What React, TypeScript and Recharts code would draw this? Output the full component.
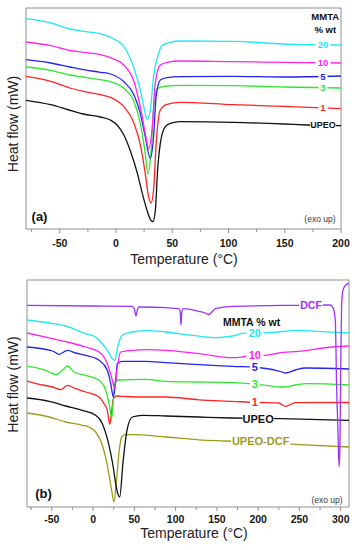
import { Line, LineChart, ReferenceArea, ReferenceDot, XAxis, YAxis } from 'recharts';

type Pt = [number, number];

// Panel (a): DSC traces, temperature (°C) vs heat flow (mW, stacked offsets)
const aUpeo: Pt[] = [
  [-80, 12.87], [-58, 12.43], [-43, 11.95], [-29, 11.5], [-14, 11.2], [-5, 10.9], [1, 10.4],
  [7, 9.4], [13, 7.73], [19, 5.57], [23, 3.73], [27.5, 1.9], [30.5, 0.97], [32.8, 0.73],
  [35, 1.9], [37, 5.9], [39.4, 8.57], [43.8, 10.23], [48.3, 10.57], [57, 10.73], [104, 10.67],
  [149, 10.5], [170, 10.4], [200, 10.33],
];
const aM1: Pt[] = [
  [-80, 15.27], [-58, 14.77], [-41, 14.1], [-29, 13.77], [-14, 13.43], [-5, 13.17], [7, 12.23],
  [16, 10.57], [22, 8.23], [26, 5.57], [29, 3.23], [31, 2.57], [33.4, 3.9], [35.7, 8.57],
  [39.4, 11.9], [45.3, 12.47], [57, 12.67], [104, 12.43], [149, 12.27], [200, 12.03],
];
const aM3: Pt[] = [
  [-80, 16.2], [-58, 15.87], [-41, 15.4], [-29, 15.2], [-14, 14.93], [-5, 14.73], [7, 14.07],
  [16, 12.73], [21.6, 10.57], [26, 7.57], [28.5, 5.5], [31, 7.57], [33.4, 11.9], [37, 14.07],
  [45.3, 14.3], [57, 14.37], [104, 14.33], [149, 14.2], [200, 14.1],
];
const aM5: Pt[] = [
  [-80, 16.93], [-58, 16.6], [-41, 16.2], [-29, 15.93], [-14, 15.67], [-5, 15.5], [7, 14.73],
  [16, 13.4], [21.6, 11.57], [26, 9.23], [30.5, 7.07], [33.4, 9.23], [35.7, 13.23], [39.4, 14.9],
  [45.3, 15.13], [57, 15.23], [104, 15.27], [149, 15.2], [200, 15.3],
];
const aM10: Pt[] = [
  [-80, 18.7], [-58, 18.33], [-41, 17.85], [-29, 17.67], [-14, 17.43], [-5, 17.13], [7, 16.4],
  [16, 14.73], [21.6, 12.23], [26, 9.57], [29, 8.07], [32, 9.9], [34.9, 14.57], [39.4, 16.4],
  [45.3, 16.67], [57, 16.8], [104, 16.73], [149, 16.67], [200, 16.6],
];
const aM20: Pt[] = [
  [-80, 21.03], [-58, 20.6], [-41, 20.0], [-29, 19.77], [-14, 19.53], [-5, 19.17], [7, 18.23],
  [15.6, 16.2], [21.6, 13.9], [26, 11.57], [27.5, 10.97], [30.5, 11.9], [33.4, 15.23],
  [37.9, 17.57], [40.6, 18.3], [45.3, 18.57], [57, 18.8], [104, 18.77], [149, 18.5], [200, 18.4],
];

// Panel (b)
const bDcf: Pt[] = [
  [-80, 20.17], [0, 20.1], [47, 20.07], [50, 19.8], [52, 19.1], [54, 19.8], [56, 20.0],
  [88, 19.93], [104, 19.83], [105.5, 19.5], [106.5, 18.2], [107.5, 19.5], [109, 19.83],
  [128, 19.57], [136, 19.4], [140, 19.23], [144, 19.5], [148, 19.83], [169, 20.07], [249, 20.17],
  [287, 20.2], [290, 20.0], [292, 19.6], [293.5, 18.5], [295, 12], [296.5, 8], [298, 4.0],
  [299, 6], [300, 14], [301, 20], [302.5, 21.6], [305, 22.1], [310, 22.4],
];
const bM20: Pt[] = [
  [-80, 18.7], [-53, 18.4], [-33, 18.1], [-9, 17.33], [3, 17.0], [7.3, 16.67], [11.3, 16.3],
  [17.3, 15.67], [23.4, 14.83], [26.6, 14.67], [29.8, 16.0], [35.5, 17.17], [47.6, 17.5],
  [64, 17.67], [88, 17.5], [120, 17.17], [148, 16.93], [169, 17.1], [187, 17.43], [209, 17.43],
  [249, 17.67], [270, 17.57], [310, 17.4],
];
const bM10: Pt[] = [
  [-80, 17.4], [-49, 16.83], [-31, 16.5], [-9, 16.0], [7.3, 15.5], [17.3, 14.33], [23.4, 12.67],
  [26.2, 11.83], [29.4, 14.0], [33.4, 15.5], [47.6, 15.67], [64, 15.73], [88, 15.67],
  [128, 15.33], [168.6, 14.93], [190, 15.1], [209, 15.17], [225, 15.4], [249, 15.57],
  [290, 16.0], [310, 16.1],
];
const bM5: Pt[] = [
  [-80, 16.0], [-49, 15.6], [-41, 15.27], [-31, 15.67], [-21, 15.4], [-9, 15.17], [7.3, 14.67],
  [17.3, 13.67], [21.4, 12.33], [24.6, 11.0], [27.4, 12.67], [29.4, 14.33], [35.5, 14.57],
  [64, 14.57], [88, 14.43], [128, 14.23], [168.6, 14.07], [205, 13.9], [229, 13.5], [233, 13.4],
  [245, 13.7], [257, 13.9], [310, 13.8],
];
const bM3: Pt[] = [
  [-80, 14.07], [-69, 13.93], [-53, 13.5], [-45, 13.23], [-37, 13.67], [-31, 14.1], [-23, 13.5],
  [-9, 13.17], [7.3, 12.67], [15.3, 11.67], [20.2, 10.0], [22.6, 8.83], [24.6, 10.8],
  [26.6, 12.5], [31.5, 12.7], [64, 12.77], [88, 12.57], [128, 12.5], [168.6, 12.43],
  [209, 12.17], [229, 12.0], [233, 12.0], [245, 12.2], [261, 12.33], [310, 12.2],
];
const bM1: Pt[] = [
  [-80, 12.6], [-69, 12.33], [-49, 12.0], [-39, 11.73], [-31, 12.17], [-21, 11.83], [-9, 11.5],
  [7.3, 11.0], [13.3, 10.33], [17.3, 9.67], [20.2, 8.27], [22.5, 9.5], [24.6, 10.83],
  [29, 11.1], [40, 11.05], [64, 11.0], [88, 11.0], [128, 10.72], [168.6, 10.57], [200, 10.45],
  [225, 10.4], [233, 10.07], [245, 10.43], [310, 10.45],
];
const bUpeo: Pt[] = [
  [-80, 10.9], [-53, 10.57], [-33, 10.1], [-13, 9.67], [3.2, 9.17], [11.3, 8.33], [17.3, 6.83],
  [23.4, 4.5], [29.4, 1.5], [32.3, 1.0], [36.3, 4.5], [41.5, 7.83], [47.6, 9.0], [59.7, 9.17],
  [88, 9.1], [128, 9.0], [168.6, 8.9], [229, 8.83], [310, 8.67],
];
const bUpeoDcf: Pt[] = [
  [-80, 9.4], [-53, 9.0], [-33, 8.5], [-13, 8.17], [-5, 8.0], [3.2, 7.5], [11.3, 6.17],
  [17.3, 4.17], [22.2, 1.83], [25.4, 0.5], [28.2, 2.5], [31.5, 5.5], [34.7, 7.0], [38.7, 7.23],
  [47.6, 7.23], [88, 7.0], [128, 6.72], [160, 6.6], [241, 6.28], [310, 6.0],
];

const ticksA = [-75, -50, -25, 0, 25, 50, 75, 100, 125, 150, 175, 200];
const ticksB = [-75, -50, -25, 0, 25, 50, 75, 100, 125, 150, 175, 200, 225, 250, 275, 300];

const FONT = '"Liberation Sans", Arial, Helvetica, sans-serif';
const AXIS = '#8f8f8f';
const C = {
  black: '#111111',
  red: '#ff2424',
  green: '#2ee82e',
  blue: '#2424f0',
  magenta: '#ff24f0',
  cyan: '#22e8f4',
  purple: '#9c32ff',
  olive: '#9c9c1c',
};

const toRows = (pts: Pt[]) => pts.map(([t, v]) => ({ t, v }));

const makeTick = (dy: number) => (p: any) => {
  const { x, y, payload } = p;
  const major = payload.value % 50 === 0;
  return (
    <g>
      <line x1={x} x2={x} y1={y} y2={y + (major ? 4 : 3)} stroke={AXIS} />
      {major && (
        <text x={x} y={y + dy} textAnchor="middle" fontFamily={FONT} fontWeight="bold" fontSize={10.5} fill="#151515">
          {payload.value}
        </text>
      )}
    </g>
  );
};

// text tag sitting on a curve, with a white box that breaks the line
const tag = (text: string, color: string, size: number, bg = true, weight = 'bold') => (p: any) => {
  const w = text.length * size * 0.64 + 3;
  return (
    <g>
      {bg && <rect x={p.cx - w / 2} y={p.cy - size * 0.55} width={w} height={size * 1.1} fill="#fff" />}
      <text x={p.cx} y={p.cy} dy="0.36em" textAnchor="middle" fontFamily={FONT} fontWeight={weight} fontSize={size} fill={color}>
        {text}
      </text>
    </g>
  );
};

type Series = { data: Pt[]; color: string };
type Tag = { t: number; v: number; text: string; color: string; size: number; bg?: boolean; weight?: string };

interface PanelProps {
  series: Series[];
  tags: Tag[];
  domain: [number, number];
  yMax: number;
  ticks: number[];
  top: number;
  right: number;
  yW: number;
  xH: number;
  tickDy: number;
  xTitle: [number, number];
  yTitleY: number;
}

const Panel = ({ series, tags, domain, yMax, ticks, top, right, yW, xH, tickDy, xTitle, yTitleY }: PanelProps) => (
  <LineChart width={355} height={275} margin={{ top, right, bottom: 0, left: 0 }}>
    <XAxis
      dataKey="t"
      type="number"
      domain={domain}
      allowDataOverflow
      ticks={ticks}
      interval={0}
      height={xH}
      axisLine={false}
      tickLine={false}
      tickSize={0}
      tickMargin={0}
      tick={makeTick(tickDy)}
      label={{
        content: () => (
          <text x={xTitle[0]} y={xTitle[1]} textAnchor="middle" fontFamily={FONT} fontSize={14} fill="#222">
            Temperature (°C)
          </text>
        ),
      }}
    />
    <YAxis
      type="number"
      domain={[0, yMax]}
      allowDataOverflow
      width={yW}
      axisLine={false}
      tick={false}
      tickLine={false}
      label={{
        content: () => (
          <text
            x={13}
            y={yTitleY}
            transform={`rotate(-90 13 ${yTitleY})`}
            textAnchor="middle"
            dominantBaseline="central"
            fontFamily={FONT}
            fontSize={14}
            fill="#222"
          >
            Heat flow (mW)
          </text>
        ),
      }}
    />
    <ReferenceArea x1={domain[0]} x2={domain[1]} y1={0} y2={yMax} fill="none" stroke={AXIS} strokeWidth={1} />
    {series.map((s, i) => (
      <Line
        key={i}
        data={toRows(s.data)}
        dataKey="v"
        type="monotone"
        stroke={s.color}
        strokeWidth={1.3}
        dot={false}
        isAnimationActive={false}
      />
    ))}
    {tags.map((g, i) => (
      <ReferenceDot
        key={'tag' + i}
        x={g.t}
        y={g.v}
        r={0}
        ifOverflow="visible"
        shape={tag(g.text, g.color, g.size, g.bg !== false, g.weight)}
      />
    ))}
  </LineChart>
);

const seriesA: Series[] = [
  { data: aUpeo, color: C.black },
  { data: aM1, color: C.red },
  { data: aM3, color: C.green },
  { data: aM5, color: C.blue },
  { data: aM10, color: C.magenta },
  { data: aM20, color: C.cyan },
];

const tagsA: Tag[] = [
  { t: 186, v: 21.2, text: 'MMTA', color: '#111', size: 9.5, bg: false },
  { t: 186, v: 19.9, text: '% wt', color: '#111', size: 9.5, bg: false },
  { t: 184, v: 18.45, text: '20', color: C.cyan, size: 9.5 },
  { t: 184, v: 16.6, text: '10', color: C.magenta, size: 9.5 },
  { t: 184, v: 15.27, text: '5', color: C.blue, size: 9.5 },
  { t: 184, v: 14.13, text: '3', color: C.green, size: 9.5 },
  { t: 184, v: 12.1, text: '1', color: C.red, size: 9.5 },
  { t: 184, v: 10.38, text: 'UPEO', color: '#111', size: 9 },
  { t: -68, v: 1.23, text: '(a)', color: '#111', size: 13, bg: false },
  { t: 181.3, v: 0.97, text: '(exo up)', color: '#333', size: 8.5, bg: false, weight: 'normal' },
];

const seriesB: Series[] = [
  { data: bUpeoDcf, color: C.olive },
  { data: bUpeo, color: C.black },
  { data: bM1, color: C.red },
  { data: bM3, color: C.green },
  { data: bM5, color: C.blue },
  { data: bM10, color: C.magenta },
  { data: bM20, color: C.cyan },
  { data: bDcf, color: C.purple },
];

const tagsB: Tag[] = [
  { t: 264, v: 20.17, text: 'DCF', color: C.purple, size: 10.5 },
  { t: 192, v: 18.5, text: 'MMTA % wt', color: '#111', size: 10.5, bg: false },
  { t: 196, v: 17.4, text: '20', color: C.cyan, size: 11 },
  { t: 196, v: 15.2, text: '10', color: C.magenta, size: 11 },
  { t: 196, v: 13.95, text: '5', color: C.blue, size: 11 },
  { t: 196, v: 12.3, text: '3', color: C.green, size: 11 },
  { t: 196, v: 10.47, text: '1', color: C.red, size: 11 },
  { t: 200, v: 8.8, text: 'UPEO', color: '#111', size: 11 },
  { t: 203, v: 6.55, text: 'UPEO-DCF', color: C.olive, size: 11 },
  { t: -60, v: 1.4, text: '(b)', color: '#111', size: 13, bg: false },
  { t: 283.4, v: 0.74, text: '(exo up)', color: '#333', size: 8.5, bg: false, weight: 'normal' },
];

export default function App() {
  return (
    <div style={{ position: 'absolute', left: 0, top: 0, width: 355, height: 550, background: '#fff' }}>
      <Panel
        series={seriesA}
        tags={tagsA}
        domain={[-80, 200]}
        yMax={22.1}
        ticks={ticksA}
        top={8}
        right={14}
        yW={26}
        xH={46}
        tickDy={17.5}
        xTitle={[184, 263.5]}
        yTitleY={124}
      />
      <Panel
        series={seriesB}
        tags={tagsB}
        domain={[-80, 310]}
        yMax={22.7}
        ticks={ticksB}
        top={5}
        right={6}
        yW={27}
        xH={43}
        tickDy={15.5}
        xTitle={[194, 263]}
        yTitleY={109.5}
      />
    </div>
  );
}
